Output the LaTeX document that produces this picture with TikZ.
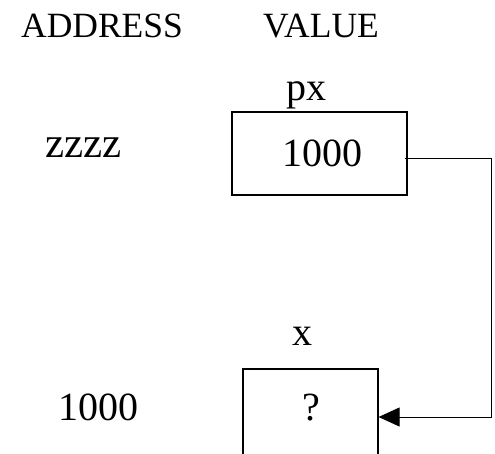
\documentclass[tikz,border=0pt]{standalone}
\usepackage{fontspec}
\setmainfont{Liberation Serif}
\usetikzlibrary{arrows.meta}
\begin{document}
\begin{tikzpicture}[x=1pt,y=-1pt,
  head/.style={anchor=base,inner sep=0pt,font=\fontsize{35.5}{35.5}\selectfont},
  txt/.style={anchor=base,inner sep=0pt,font=\fontsize{40}{40}\selectfont},
  cell/.style={draw,line width=1.2pt,rectangle,inner sep=0pt},
  link/.style={line width=1pt,-{Triangle[length=21pt,width=19pt]}}]
\useasboundingbox (0,0) rectangle (495,453);
\clip (0,0) rectangle (495,453);
\node[head] (hadr) at (102,37) {ADDRESS};
\node[head] (hval) at (321,37) {VALUE};
\node[txt] (lpx) at (306.5,100) {px};
\node[cell,minimum width=175pt,minimum height=83pt] (pxbox) at (319.5,153.5) {};
\node[txt] (vpx) at (322,166) {1000};
\node[txt,font=\fontsize{43}{43}\selectfont] (apx) at (83.5,157) {zzzz};
\node[txt] (lx) at (302,345) {x};
\node[cell,minimum width=135pt,minimum height=96pt] (xbox) at (310.5,417) {};
\node[txt] (vx) at (311,420) {?};
\node[txt] (ax) at (98,420) {1000};
\coordinate (turn) at (491,158);
\draw[link] ([xshift=-3pt,yshift=-4.5pt]pxbox.east) -- (turn) |- (xbox.east);
\end{tikzpicture}
\end{document}
